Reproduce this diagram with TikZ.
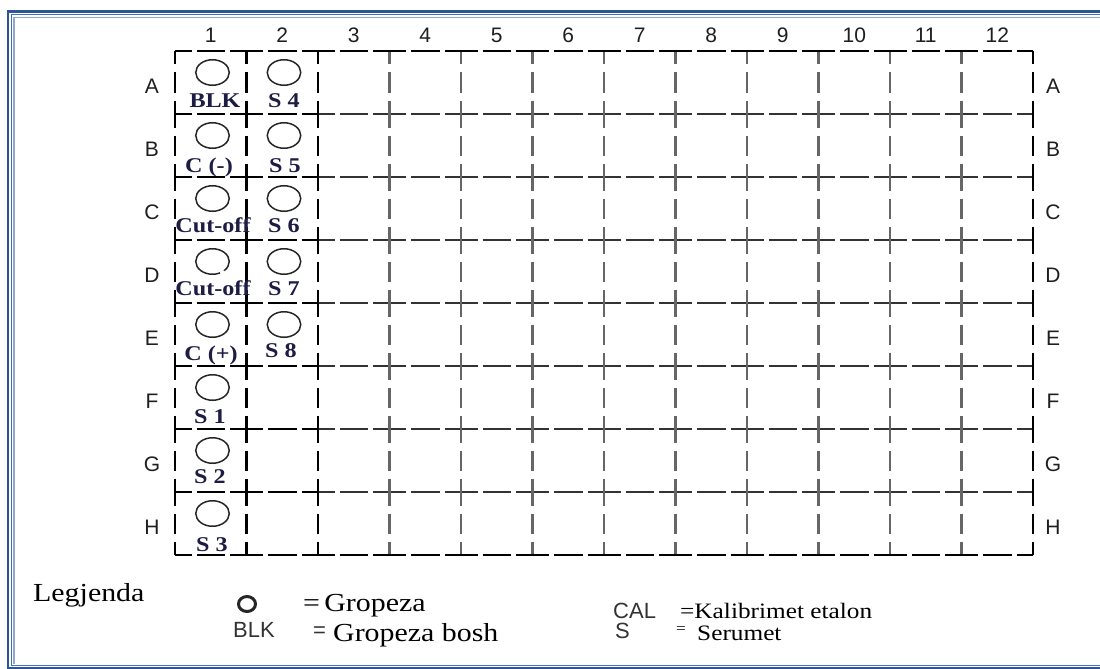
\documentclass[tikz,border=0pt]{standalone}
\usepackage{fontspec}
\setmainfont{Liberation Serif}
\setsansfont{Liberation Sans}
\newfontfamily\platefont{Liberation Serif}[FakeStretch=1.15]
\usepackage{xcolor}
\usepackage{tikz}
\usetikzlibrary{shapes.geometric}
\definecolor{framedark}{HTML}{2B5597}
\definecolor{framemid}{HTML}{4470B8}
\definecolor{framelight}{HTML}{8EA8D8}
\definecolor{labelink}{HTML}{1C1C44}
\definecolor{gridh}{HTML}{333333}
\definecolor{gridv}{HTML}{666666}

\begin{document}
\begin{tikzpicture}[
  x=1pt, y=-1pt,
  axis/.style={font=\sffamily\fontsize{21}{24}\selectfont,text=black!88,inner sep=0pt},
  well/.style={ellipse,draw=black!85,line width=1.5pt,minimum width=33.5pt,minimum height=25.5pt,inner sep=0pt},
  wellid/.style={font=\platefont\bfseries\fontsize{21}{24}\selectfont,text=labelink,anchor=base,inner sep=0pt},
  hgrid/.style={draw=gridh,line width=2.3pt,dash pattern=on 33pt off 5pt on 28.5pt off 5pt,dash phase=16.5pt},
  vgrid/.style={draw=gridv,line width=2.2pt,dash pattern=on 27pt off 8pt on 20pt off 8pt,dash phase=13.5pt},
  heavy/.style={draw=black,line width=2.8pt},
  legtxt/.style={font=\platefont\fontsize{26}{30}\selectfont,anchor=base west,inner sep=0pt},
  legsmall/.style={font=\platefont\fontsize{22}{26}\selectfont,anchor=base west,inner sep=0pt},
  legkey/.style={font=\sffamily\fontsize{22}{26}\selectfont,text=black!80,anchor=base west,inner sep=0pt}
]
\useasboundingbox (0,0) rectangle (1100,669);
\fill[white] (0,0) rectangle (1100,669);
\clip (0,0) rectangle (1100,669);

% page frame
\draw[framedark,line width=2.8pt] (8,11.2) rectangle (1110,668.3);
\draw[framemid,line width=1.5pt] (11.6,14.3) rectangle (1110,665.6);
\draw[framelight,line width=1.3pt] (14,664) -- (14,17.5) -- (1110,17.5);

% plate grid
\foreach \r in {1,...,7}{
  \draw[hgrid] (318,{51+63*\r}) -- (1033,{51+63*\r});
}
\foreach \c in {3,...,11}{
  \draw[vgrid] ({175+71.5*\c},51) -- ({175+71.5*\c},555);
}
\draw[hgrid,draw=black] (318,51) -- (1033,51);
\draw[hgrid,draw=black] (318,555) -- (1033,555);
\draw[vgrid,draw=black,line width=2.4pt] (1033,51) -- (1033,555);
\foreach \r in {0,...,8}{
  \draw[hgrid,heavy] (175,{51+63*\r}) -- (318,{51+63*\r});
}
\foreach \x in {175,246.5,318}{
  \draw[vgrid,heavy] (\x,51) -- (\x,555);
}

% column numbers and row letters
\foreach \c in {1,...,12}{
  \node[axis] (col\c) at ({139.25+71.5*\c},35.5) {\c};
}
\foreach \l [count=\i from 0] in {A,B,C,D,E,F,G,H}{
  \node[axis] (left\l) at (152,{86.5+63*\i}) {\l};
  \node[axis] (right\l) at (1053,{86.5+63*\i}) {\l};
}

% wells
\node[well] (wA1) at (212.5,72.5) {};
\node[well] (wA2) at (284,72.5) {};
\node[well] (wB1) at (212.5,135.5) {};
\node[well] (wB2) at (284,135.5) {};
\node[well] (wC1) at (212.5,198.5) {};
\node[well] (wC2) at (284,198.5) {};
\node[well] (wD1) at (212.5,261.5) {};
\fill[white] (wD1.-48) circle[radius=2.6pt];
\node[well] (wD2) at (284,261.5) {};
\node[well] (wE1) at (212.5,324.5) {};
\node[well] (wE2) at (284,324.5) {};
\node[well] (wF1) at (212.5,387.5) {};
\node[well] (wG1) at (212.5,450.5) {};
\node[well] (wH1) at (212.5,513.5) {};

% well contents
\node[wellid] (idA1) at (215,107) {BLK};
\node[wellid] (idA2) at (284,107) {S 4};
\node[wellid] (idB1) at (209,172) {C (-)};
\node[wellid] (idB2) at (285,172) {S 5};
\node[wellid] (idC1) at (213,232) {Cut-off};
\node[wellid] (idC2) at (284,232) {S 6};
\node[wellid] (idD1) at (213,295) {Cut-off};
\node[wellid] (idD2) at (284,295) {S 7};
\node[wellid] (idE1) at (211,360) {C (+)};
\node[wellid] (idE2) at (281,357) {S 8};
\node[wellid] (idF1) at (210,423) {S 1};
\node[wellid] (idG1) at (210,483.5) {S 2};
\node[wellid] (idH1) at (212,551) {S 3};

% legend
\node[legtxt] (legend) at (33,601) {Legjenda};
\node[ellipse,draw=black!85,line width=3pt,minimum width=17pt,minimum height=15pt,inner sep=0pt] (keywell) at (247,604) {};
\node[legtxt] (keywelltxt) at (303,611.5) {=\,Gropeza};
\node[legkey] (keyblk) at (233,637) {BLK};
\node[legkey] (keyblkeq) at (313,637) {=};
\node[legtxt] (keyblktxt) at (333,641.5) {Gropeza bosh};
\node[legkey] (keycal) at (613,618) {CAL};
\node[legsmall] (keycaltxt) at (680,618) {=Kalibrimet etalon};
\node[legkey] (keys) at (615,638) {S};
\node[legsmall,font=\platefont\fontsize{15}{18}\selectfont] (keyseq) at (676,633) {=};
\node[legsmall] (keystxt) at (697,640) {Serumet};
\end{tikzpicture}
\end{document}
